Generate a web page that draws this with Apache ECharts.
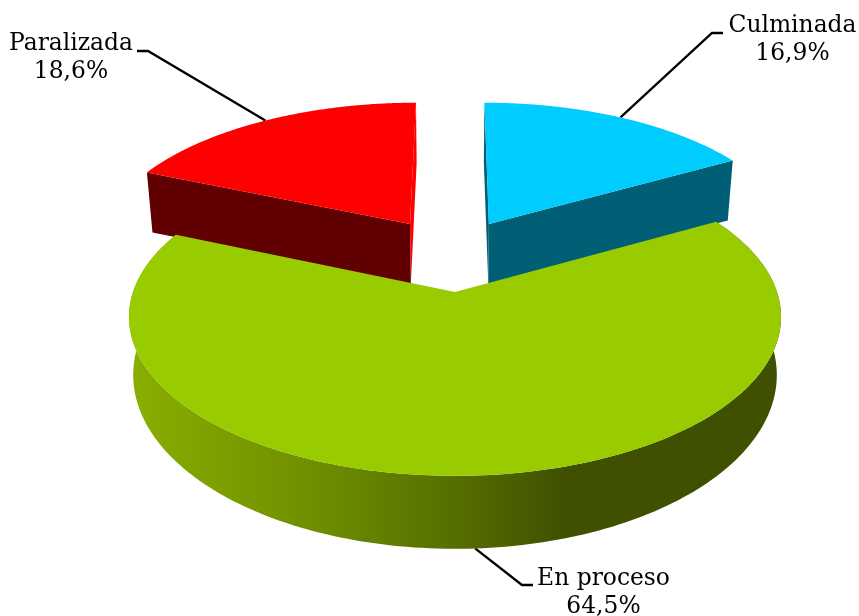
<!DOCTYPE html>
<html>
<head>
<meta charset="utf-8">
<style>html,body{margin:0;padding:0;background:#fff}#c{width:859px;height:616px}</style>
<script src="https://cdn.jsdelivr.net/npm/echarts@6/dist/echarts.min.js"></script>
</head>
<body>
<div id="c"></div>
<script>
const categories = ['Culminada', 'En proceso', 'Paralizada'];
const values = [16.9, 64.5, 18.6];
const tickLabels = ['16,9%', '64,5%', '18,6%'];

// styles / layout (not data)
const topColors = ['#00CCFF', '#99CC00', '#FF0000'];
const faceColors = [['#005F75', '#005F75'], null, ['#600000', '#FF0000']];
const sliceOffsets = [[0.113, -0.471], [0, 0], [-0.15, -0.471]];
const sliceScales = [[1.01, 1.04], [1, 1], [1.02, 1.04]];
const labelAnchors = [
  { elbow: [712, 33], end: [723, 33], text: [792.5, 40] },
  { elbow: [522, 585], end: [533, 585], text: [603.5, 593] },
  { elbow: [148, 51], end: [137, 51], text: [71, 58] }
];
const FONT = '"DejaVu Serif", serif';

const X0 = 455, Y0 = 292, A = 322, B = 155, P = 0.157;
function project(u, v) {
  const w = 1 - P * v;
  return [X0 + A * u / w, Y0 + B * v / w];
}
// underside of the raised (exploded) slices
function lower(pt) {
  return [X0 + (pt[0] - X0) * 0.982, pt[1] + 60];
}
// underside of the main slice: a slightly narrower, taller ellipse
function lowerMain(pt) {
  return [X0 + (pt[0] - X0) * 0.987, 375 + (pt[1] - 317) * 1.094];
}
const total = values.reduce((a, b) => a + b, 0);
const spans = [];
values.reduce((acc, val) => {
  const end = acc + val / total * Math.PI * 2;
  spans.push([acc, end]);
  return end;
}, 0);

function discPoint(i, ang, r) {
  const o = sliceOffsets[i], s = sliceScales[i];
  return project(o[0] + s[0] * r * Math.sin(ang), o[1] - s[1] * r * Math.cos(ang));
}
function arcPoints(i) {
  const pts = [], n = 200, [a, b] = spans[i];
  for (let k = 0; k <= n; k++) pts.push(discPoint(i, a + (b - a) * k / n, 1));
  return pts;
}

function renderItem(params) {
  const i = params.dataIndex;
  const arc = arcPoints(i);
  const apex = discPoint(i, 0, 0);
  const children = [];
  if (i === 1) {
    const low = arc.map(lowerMain);
    children.push({
      type: 'polygon',
      shape: { points: arc.concat(low.slice().reverse()) },
      style: {
        fill: new echarts.graphic.LinearGradient(0, 0, 1, 0, [
          { offset: 0, color: '#8AAF00' },
          { offset: 0.29, color: '#6E8E00' },
          { offset: 0.495, color: '#566F00' },
          { offset: 0.67, color: '#3F5000' },
          { offset: 1, color: '#3F5000' }
        ])
      }
    });
  } else {
    const a0 = arc[0], a1 = arc[arc.length - 1];
    [[a0, apex], [apex, a1]].forEach(function (seg, k) {
      children.push({
        type: 'polygon',
        shape: { points: [seg[0], seg[1], lower(seg[1]), lower(seg[0])] },
        style: { fill: faceColors[i][k] }
      });
    });
    children.reverse();
  }
  children.push({
    type: 'polygon',
    shape: { points: [apex].concat(arc) },
    style: { fill: topColors[i] }
  });
  return { type: 'group', children: children };
}

function renderLabel(params) {
  const i = params.dataIndex;
  const mid = (spans[i][0] + spans[i][1]) / 2;
  let p = discPoint(i, mid, 1);
  if (i === 1) p = lowerMain(p);
  const l = labelAnchors[i];
  return {
    type: 'group',
    children: [
      {
        type: 'polyline',
        shape: { points: [p, l.elbow, l.end] },
        style: { stroke: '#000', lineWidth: 2.3, fill: null }
      },
      {
        type: 'text',
        style: {
          x: l.text[0], y: l.text[1],
          text: categories[i] + '\n' + tickLabels[i],
          font: '23.4px ' + FONT,
          lineHeight: 28,
          fill: '#000',
          align: 'center',
          verticalAlign: 'middle'
        }
      }
    ]
  };
}

const chart = echarts.init(document.getElementById('c'), null, { renderer: 'canvas' });
const order = [2, 0, 1];
chart.setOption({
  animation: false,
  backgroundColor: '#fff',
  series: [
    {
      type: 'custom', coordinateSystem: 'none', silent: true, z: 2,
      renderItem: function (params) { return renderItem({ dataIndex: order[params.dataIndex] }); },
      data: order.map(function (i) { return values[i]; })
    },
    {
      type: 'custom', coordinateSystem: 'none', silent: true, z: 1,
      renderItem: renderLabel,
      data: values
    }
  ]
});
</script>
</body>
</html>
